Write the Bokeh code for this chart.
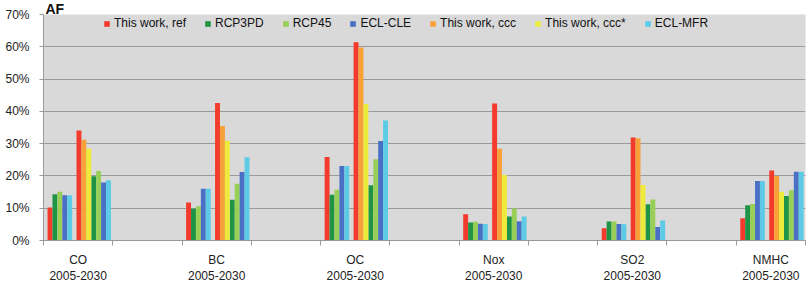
from bokeh.plotting import figure
from bokeh.models import (ColumnDataSource, Range1d, FixedTicker, LinearAxis,
                          PrintfTickFormatter, Legend, LegendItem, Grid, Title)
from bokeh.embed import file_html
from bokeh.resources import INLINE

# ---------------- data ----------------
pollutants = ["CO", "BC", "OC", "Nox", "SO2", "NMHC"]
period = "2005-2030"
y_ticks = [0, 10, 20, 30, 40, 50, 60, 70]

series_names = ["This work, ref", "RCP3PD", "RCP45", "ECL-CLE",
                "This work, ccc", "This work, ccc*", "ECL-MFR"]
series_colors = ["#f23b2c", "#1f9446", "#97cf57", "#4a70c6",
                 "#f7a138", "#eeea3c", "#5dcbe5"]

# 2005 cluster (percent)
ref_2005 = [10.2, 11.8, 25.9, 8.1, 3.8, 6.9]
rcp3pd_2005 = [14.3, 9.8, 14.2, 5.6, 5.9, 10.9]
rcp45_2005 = [15.1, 10.6, 15.7, 5.8, 5.9, 11.3]
eclcle_2005 = [14.0, 16.0, 23.1, 5.2, 5.1, 18.4]
eclmfr_2005 = [14.0, 16.0, 23.1, 5.1, 5.0, 18.4]

# 2030 cluster (percent)
ref_2030 = [34.1, 42.6, 61.4, 42.4, 31.9, 21.7]
ccc_2030 = [31.2, 35.5, 59.8, 28.4, 31.7, 20.0]
cccs_2030 = [28.4, 30.9, 42.3, 20.3, 17.2, 15.1]
rcp3pd_2030 = [19.9, 12.6, 17.1, 7.4, 11.2, 13.8]
rcp45_2030 = [21.5, 17.6, 25.2, 9.9, 12.7, 15.6]
eclcle_2030 = [18.0, 21.2, 30.8, 6.0, 4.2, 21.3]
eclmfr_2030 = [18.7, 25.8, 37.2, 7.4, 6.2, 21.3]

values_2005 = {"This work, ref": ref_2005, "RCP3PD": rcp3pd_2005,
               "RCP45": rcp45_2005, "ECL-CLE": eclcle_2005,
               "ECL-MFR": eclmfr_2005}
values_2030 = {"This work, ref": ref_2030, "This work, ccc": ccc_2030,
               "This work, ccc*": cccs_2030, "RCP3PD": rcp3pd_2030,
               "RCP45": rcp45_2030, "ECL-CLE": eclcle_2030,
               "ECL-MFR": eclmfr_2030}

# ---------------- layout ----------------
order_2005 = ["This work, ref", "RCP3PD", "RCP45", "ECL-CLE", "ECL-MFR"]
order_2030 = ["This work, ref", "This work, ccc", "This work, ccc*",
              "RCP3PD", "RCP45", "ECL-CLE", "ECL-MFR"]
BW = 0.071
START_2005 = 0.094
START_2030 = 0.512
n_slots = 2 * len(pollutants) - 1

W, H = 806, 283
MB_L, MB_R, MB_T, MB_B = 43, 1, 14, 43
frame_h = H - MB_T - MB_B

p = figure(width=W, height=H, output_backend="svg", toolbar_location=None,
           x_range=Range1d(0, n_slots), y_range=Range1d(0, 70),
           x_axis_location=None, y_axis_location=None,
           min_border_left=MB_L, min_border_right=MB_R,
           min_border_top=MB_T, min_border_bottom=MB_B,
           background_fill_color="#d9d9d9", border_fill_color="white",
           outline_line_color=None,
           title=Title(text="AF", align="left", offset=2, standoff=-4,
                       text_font="Liberation Sans", text_font_style="bold",
                       text_font_size="14px", text_color="#111111"))
p.xgrid.grid_line_color = None
p.ygrid.grid_line_color = None

renderers = {}
for name, color in zip(series_names, series_colors):
    xs, tops = [], []
    for i in range(len(pollutants)):
        base = 2 * i
        if name in values_2005:
            xs.append(base + START_2005 + BW * order_2005.index(name))
            tops.append(values_2005[name][i])
        if name in values_2030:
            xs.append(base + START_2030 + BW * order_2030.index(name))
            tops.append(values_2030[name][i])
    src = ColumnDataSource(dict(x=xs, top=tops))
    renderers[name] = p.vbar(x="x", top="top", width=BW, bottom=0, source=src,
                             fill_color=color, line_color=None)

# y axis + grid
yticker = FixedTicker(ticks=y_ticks, minor_ticks=[])
yaxis = LinearAxis(ticker=yticker, formatter=PrintfTickFormatter(format="%d%%"))
yaxis.axis_line_color = "#9a9a9a"
yaxis.major_tick_line_color = "#9a9a9a"
yaxis.major_tick_out = 4
yaxis.major_tick_in = 0
yaxis.minor_tick_line_color = None
yaxis.major_label_standoff = 10
yaxis.major_label_text_font = "Liberation Sans"
yaxis.major_label_text_font_size = "12px"
yaxis.major_label_text_color = "#222222"
p.add_layout(yaxis, "left")
p.add_layout(Grid(dimension=1, ticker=yticker, grid_line_color="#9a9a9a",
                  grid_line_width=1))

# x axes: pollutant names + period line
centers = [2 * i + 0.5 for i in range(len(pollutants))]
xticker = FixedTicker(ticks=centers, minor_ticks=list(range(n_slots + 1)))
xaxis1 = LinearAxis(ticker=xticker)
xaxis1.major_label_overrides = {c: name for c, name in zip(centers, pollutants)}
xaxis1.axis_line_color = "#9a9a9a"
xaxis1.major_tick_line_color = None
xaxis1.major_tick_out = 0
xaxis1.major_tick_in = 0
xaxis1.minor_tick_line_color = "#9a9a9a"
xaxis1.minor_tick_out = 5
xaxis1.minor_tick_in = 0
xaxis1.major_label_standoff = 7
xaxis1.major_label_text_font = "Liberation Sans"
xaxis1.major_label_text_font_size = "12px"
xaxis1.major_label_text_color = "#222222"
p.add_layout(xaxis1, "below")

xaxis2 = LinearAxis(ticker=FixedTicker(ticks=centers, minor_ticks=[]))
xaxis2.major_label_overrides = {c: period for c in centers}
xaxis2.axis_line_color = None
xaxis2.major_tick_line_color = None
xaxis2.minor_tick_line_color = None
xaxis2.major_tick_out = 0
xaxis2.major_tick_in = 0
xaxis2.major_label_standoff = 1
xaxis2.major_label_text_font = "Liberation Sans"
xaxis2.major_label_text_font_size = "12px"
xaxis2.major_label_text_color = "#222222"
p.add_layout(xaxis2, "below")

# legend
LEG_H = 14
legend = Legend(items=[LegendItem(label=n, renderers=[renderers[n]]) for n in series_names],
                orientation="horizontal", location=(60, frame_h - 2 - LEG_H),
                glyph_width=7, glyph_height=7, label_standoff=4, spacing=18,
                label_height=LEG_H, label_text_font="Liberation Sans",
                label_text_font_size="12px", label_text_color="#111111",
                padding=0, margin=0, border_line_color=None,
                background_fill_alpha=0)
p.add_layout(legend)

open("out.html", "w").write(file_html(p, INLINE))
